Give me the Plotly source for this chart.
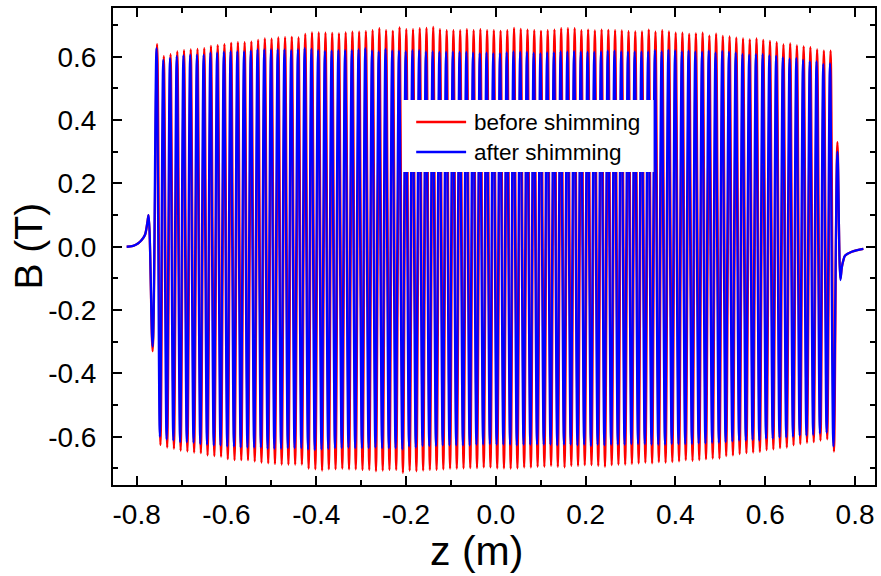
import numpy as np
import plotly.graph_objects as go

# ---- undulator geometry -------------------------------------------------
PERIOD = 0.015            # magnetic period (m)
FIRST_POLE_BEFORE = -0.7545
FIRST_POLE_AFTER = -0.7558

# ---- peak field of every positive pole (T), 101 poles -------------------
before_pos = [
    0.640, 0.602, 0.608, 0.617, 0.621, 0.623, 0.625, 0.627, 0.634, 0.637,
    0.640, 0.644, 0.646, 0.646, 0.648, 0.653, 0.658, 0.657, 0.661, 0.662,
    0.663, 0.661, 0.672, 0.677, 0.677, 0.676, 0.675, 0.674, 0.677, 0.679,
    0.679, 0.681, 0.684, 0.690, 0.684, 0.682, 0.693, 0.687, 0.687, 0.690,
    0.691, 0.694, 0.687, 0.684, 0.684, 0.684, 0.687, 0.684, 0.687, 0.684,
    0.684, 0.682, 0.684, 0.691, 0.688, 0.686, 0.684, 0.682, 0.684, 0.686,
    0.690, 0.690, 0.690, 0.684, 0.686, 0.683, 0.686, 0.685, 0.684, 0.683,
    0.681, 0.680, 0.680, 0.686, 0.679, 0.684, 0.680, 0.676, 0.676, 0.672,
    0.674, 0.676, 0.667, 0.673, 0.666, 0.664, 0.660, 0.658, 0.655, 0.658,
    0.653, 0.650, 0.646, 0.639, 0.642, 0.636, 0.633, 0.630, 0.623, 0.619,
    0.619,
]
after_pos = [
    0.627, 0.590, 0.596, 0.602, 0.604, 0.606, 0.606, 0.606, 0.613, 0.613,
    0.615, 0.617, 0.617, 0.617, 0.619, 0.623, 0.623, 0.623, 0.623, 0.623,
    0.621, 0.623, 0.627, 0.625, 0.621, 0.618, 0.619, 0.621, 0.621, 0.621,
    0.623, 0.627, 0.619, 0.617, 0.625, 0.619, 0.619, 0.617, 0.621, 0.621,
    0.616, 0.617, 0.615, 0.615, 0.616, 0.615, 0.615, 0.613, 0.611, 0.613,
    0.611, 0.611, 0.614, 0.617, 0.615, 0.615, 0.612, 0.611, 0.614, 0.614,
    0.617, 0.616, 0.618, 0.616, 0.615, 0.615, 0.617, 0.619, 0.619, 0.617,
    0.616, 0.616, 0.616, 0.617, 0.621, 0.617, 0.622, 0.620, 0.617, 0.619,
    0.616, 0.615, 0.619, 0.613, 0.618, 0.615, 0.613, 0.608, 0.606, 0.608,
    0.608, 0.604, 0.603, 0.598, 0.594, 0.596, 0.590, 0.585, 0.585, 0.577,
    0.579,
]

# ---- peak field of every negative pole (T), 101 poles -------------------
before_neg = [
    -0.626, -0.634, -0.638, -0.644, -0.647, -0.650, -0.652, -0.659, -0.661, -0.663,
    -0.671, -0.674, -0.674, -0.674, -0.678, -0.682, -0.684, -0.686, -0.688, -0.688,
    -0.688, -0.688, -0.701, -0.703, -0.707, -0.703, -0.703, -0.701, -0.703, -0.703,
    -0.705, -0.705, -0.709, -0.707, -0.705, -0.705, -0.714, -0.707, -0.709, -0.707,
    -0.705, -0.705, -0.703, -0.701, -0.701, -0.700, -0.699, -0.699, -0.697, -0.697,
    -0.700, -0.700, -0.701, -0.700, -0.697, -0.697, -0.695, -0.695, -0.692, -0.695,
    -0.697, -0.692, -0.692, -0.690, -0.690, -0.692, -0.695, -0.690, -0.688, -0.688,
    -0.686, -0.684, -0.682, -0.684, -0.680, -0.682, -0.680, -0.678, -0.674, -0.676,
    -0.674, -0.671, -0.669, -0.669, -0.661, -0.659, -0.655, -0.652, -0.650, -0.648,
    -0.642, -0.640, -0.636, -0.634, -0.627, -0.623, -0.619, -0.617, -0.612, -0.608,
    -0.647,
]
after_neg = [
    -0.600, -0.608, -0.612, -0.617, -0.617, -0.619, -0.623, -0.625, -0.627, -0.627,
    -0.631, -0.631, -0.634, -0.634, -0.634, -0.634, -0.638, -0.638, -0.638, -0.636,
    -0.636, -0.636, -0.640, -0.642, -0.640, -0.638, -0.636, -0.636, -0.634, -0.636,
    -0.636, -0.636, -0.634, -0.636, -0.636, -0.636, -0.640, -0.631, -0.634, -0.629,
    -0.629, -0.629, -0.627, -0.627, -0.627, -0.627, -0.627, -0.625, -0.625, -0.623,
    -0.625, -0.625, -0.625, -0.627, -0.625, -0.625, -0.625, -0.625, -0.625, -0.627,
    -0.625, -0.625, -0.627, -0.625, -0.629, -0.625, -0.627, -0.625, -0.625, -0.625,
    -0.623, -0.623, -0.623, -0.625, -0.625, -0.625, -0.623, -0.623, -0.623, -0.623,
    -0.621, -0.621, -0.619, -0.619, -0.617, -0.615, -0.612, -0.612, -0.610, -0.612,
    -0.606, -0.606, -0.602, -0.602, -0.600, -0.596, -0.596, -0.594, -0.589, -0.587,
    -0.630,
]

# ---- fringe field at the entrance and the exit --------------------------
entry_z = [-0.8222, -0.8076, -0.7964, -0.7889, -0.7816, -0.7764, -0.7735, -0.7645]
before_entry = [0.000, 0.003, 0.011, 0.021, 0.037, 0.074, 0.100, -0.330]
after_entry = [0.000, 0.003, 0.011, 0.021, 0.037, 0.074, 0.100, -0.315]

exit_z = [0.7607, 0.7674, 0.7705, 0.7740, 0.7780, 0.7926, 0.8185]
before_exit = [0.330, -0.100, -0.065, -0.042, -0.028, -0.016, -0.007]
after_exit = [0.300, -0.105, -0.065, -0.042, -0.028, -0.016, -0.007]

# ---- axis ticks ------------------------------------------------------------
x_ticks = [-0.8, -0.6, -0.4, -0.2, 0.0, 0.2, 0.4, 0.6, 0.8]
x_labels = ["-0.8", "-0.6", "-0.4", "-0.2", "0.0", "0.2", "0.4", "0.6", "0.8"]
y_ticks = [-0.6, -0.4, -0.2, 0.0, 0.2, 0.4, 0.6]
y_labels = ["-0.6", "-0.4", "-0.2", "0.0", "0.2", "0.4", "0.6"]


def field_profile(first_pole, pos, neg, entry_b, exit_b):
    """Order pole extrema along z: entrance, alternating poles, exit."""
    pos_z = first_pole + PERIOD * np.arange(len(pos))
    neg_z = pos_z + PERIOD / 2
    z = list(entry_z)
    b = list(entry_b)
    for zp, bp, zn, bn in zip(pos_z, pos, neg_z, neg):
        z += [zp, zn]
        b += [bp, bn]
    z += exit_z
    b += exit_b
    return z, b


z_before, b_before = field_profile(FIRST_POLE_BEFORE, before_pos, before_neg,
                                   before_entry, before_exit)
z_after, b_after = field_profile(FIRST_POLE_AFTER, after_pos, after_neg,
                                 after_entry, after_exit)

RED = "#FF0000"
BLUE = "#0000FF"
FONT = "Liberation Sans, Arial, sans-serif"

fig = go.Figure()
fig.add_trace(go.Scatter(x=z_before, y=b_before, mode="lines", name="before shimming",
                         line=dict(color=RED, width=2.3, shape="spline", smoothing=1.0),
                         showlegend=False))
fig.add_trace(go.Scatter(x=z_after, y=b_after, mode="lines", name="after shimming",
                         line=dict(color=BLUE, width=2.3, shape="spline", smoothing=1.0),
                         showlegend=False))

axis_common = dict(
    showline=True, linewidth=2, linecolor="black", mirror="ticks",
    ticks="inside", ticklen=9, tickwidth=2, tickcolor="black",
    showgrid=False, zeroline=False,
    tickfont=dict(family=FONT, size=28, color="black"),
)

fig.update_xaxes(range=[-0.8527, 0.8444], tickmode="array", tickvals=x_ticks,
                 ticktext=x_labels, ticklabelstandoff=3,
                 minor=dict(ticks="inside", ticklen=5, tickwidth=2, tickcolor="black",
                            tickmode="linear", tick0=-0.9, dtick=0.2),
                 **axis_common)
fig.update_yaxes(range=[-0.7525, 0.754], tickmode="array", tickvals=y_ticks,
                 ticktext=y_labels, ticklabelstandoff=9,
                 minor=dict(ticks="inside", ticklen=5, tickwidth=2, tickcolor="black",
                            tickmode="linear", tick0=-0.9, dtick=0.2),
                 **axis_common)

# legend box with its two entries
legend_rows = [("before shimming", RED, 0.761), ("after shimming", BLUE, 0.698)]
shapes = [dict(type="rect", xref="paper", yref="paper", x0=0.3796, x1=0.7094,
               y0=0.6562, y1=0.8071, fillcolor="white", line=dict(width=0),
               layer="above")]
annotations = []
for label, color, yrow in legend_rows:
    shapes.append(dict(type="line", xref="paper", yref="paper", x0=0.3979, x1=0.4634,
                       y0=yrow, y1=yrow, line=dict(color=color, width=2.5),
                       layer="above"))
    annotations.append(dict(text=label, xref="paper", yref="paper", x=0.4712, y=yrow,
                            xanchor="left", yanchor="middle", showarrow=False,
                            font=dict(family=FONT, size=22.5, color="black")))

annotations.append(dict(text="B (T)", xref="paper", yref="paper", x=0, y=0.5,
                        xshift=-85, textangle=-90, xanchor="center", yanchor="middle",
                        showarrow=False, font=dict(family=FONT, size=39, color="black")))
annotations.append(dict(text="z (m)", xref="paper", yref="paper", x=0.4764, y=0,
                        yshift=-66, xanchor="center", yanchor="middle",
                        showarrow=False, font=dict(family=FONT, size=41, color="black")))

fig.update_layout(
    width=881, height=576,
    margin=dict(l=113, r=4, t=8, b=91),
    paper_bgcolor="white", plot_bgcolor="white",
    shapes=shapes, annotations=annotations,
    showlegend=False,
)

fig.write_html("out.html")
